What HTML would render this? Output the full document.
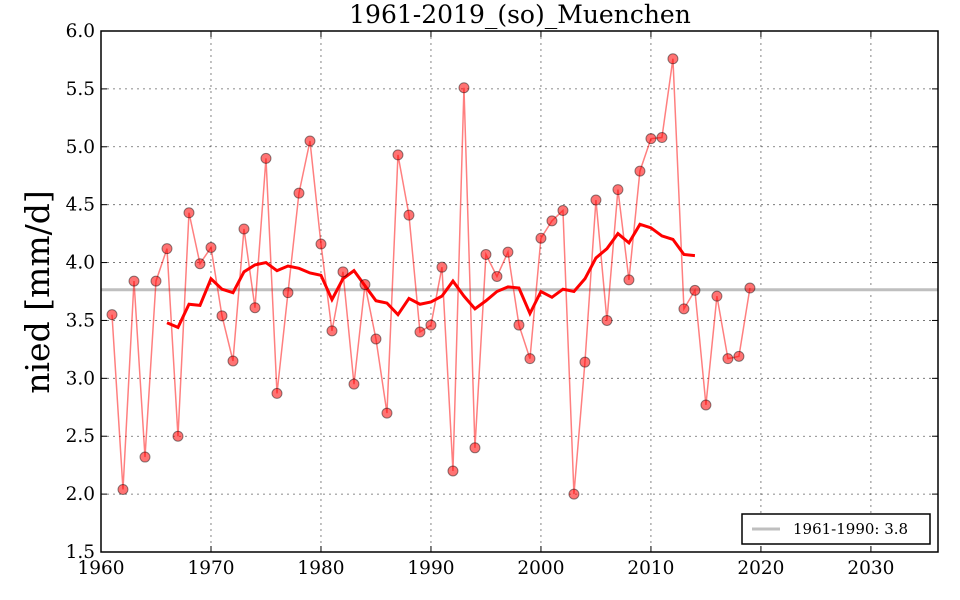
<!DOCTYPE html>
<html><head><meta charset="utf-8"><style>
body{margin:0;background:#fff}
svg{display:block;font-family:"DejaVu Serif","Liberation Serif",serif}
</style></head><body>
<svg id="chart" width="960" height="600" xmlns="http://www.w3.org/2000/svg">
<rect width="960" height="600" fill="#fff"/>
<g id="grid"></g>
<g id="marks"></g>
<g id="axes"></g>
<text x="520" y="23" text-anchor="middle" font-size="25">1961-2019_(so)_Muenchen</text>
<text transform="translate(49,292) rotate(-90)" text-anchor="middle" font-size="33">nied [mm/d]</text>
<g>
<rect x="742" y="514" width="188" height="30" fill="#fff" stroke="#000" stroke-width="1.5"/>
<line x1="752" y1="529" x2="780" y2="529" stroke="#bfbfbf" stroke-width="3"/>
<text x="793" y="534" font-size="15">1961-1990: 3.8</text>
</g>
</svg>
<script>
const years=[1961,1962,1963,1964,1965,1966,1967,1968,1969,1970,1971,1972,1973,1974,1975,1976,1977,1978,1979,1980,1981,1982,1983,1984,1985,1986,1987,1988,1989,1990,1991,1992,1993,1994,1995,1996,1997,1998,1999,2000,2001,2002,2003,2004,2005,2006,2007,2008,2009,2010,2011,2012,2013,2014,2015,2016,2017,2018,2019];
const values=[3.55,2.04,3.84,2.32,3.84,4.12,2.50,4.43,3.99,4.13,3.54,3.15,4.29,3.61,4.90,2.87,3.74,4.60,5.05,4.16,3.41,3.92,2.95,3.81,3.34,2.70,4.93,4.41,3.40,3.46,3.96,2.20,5.51,2.40,4.07,3.88,4.09,3.46,3.17,4.21,4.36,4.45,2.00,3.14,4.54,3.50,4.63,3.85,4.79,5.07,5.08,5.76,3.60,3.76,2.77,3.71,3.17,3.19,3.78];
const maYears=[1966,1967,1968,1969,1970,1971,1972,1973,1974,1975,1976,1977,1978,1979,1980,1981,1982,1983,1984,1985,1986,1987,1988,1989,1990,1991,1992,1993,1994,1995,1996,1997,1998,1999,2000,2001,2002,2003,2004,2005,2006,2007,2008,2009,2010,2011,2012,2013,2014];
const maValues=[3.48,3.44,3.64,3.63,3.86,3.77,3.74,3.92,3.98,4.00,3.93,3.97,3.95,3.91,3.89,3.68,3.86,3.93,3.80,3.67,3.65,3.55,3.69,3.64,3.66,3.71,3.84,3.71,3.60,3.67,3.75,3.79,3.78,3.56,3.75,3.70,3.77,3.75,3.86,4.04,4.12,4.25,4.17,4.33,4.30,4.23,4.20,4.07,4.06];
const refMean=[3.765];
const xTicks=[1960,1970,1980,1990,2000,2010,2020,2030];
const yTicks=[1.5,2.0,2.5,3.0,3.5,4.0,4.5,5.0,5.5,6.0];
const L=101,R=938,T=31,B=552,X0=1960,X1=2036.1,Y0=1.5,Y1=6.0;
const sx=v=>L+(v-X0)/(X1-X0)*(R-L);
const sy=v=>B-(v-Y0)/(Y1-Y0)*(B-T);
const NS="http://www.w3.org/2000/svg";
function mk(tag,attrs,parent){const e=document.createElementNS(NS,tag);for(const k in attrs)e.setAttribute(k,attrs[k]);parent.appendChild(e);return e;}
const grid=document.getElementById('grid'),marks=document.getElementById('marks'),axes=document.getElementById('axes');
xTicks.forEach(t=>{
 const g=mk('line',{x1:sx(t),x2:sx(t),y1:T,y2:B,stroke:'#000','stroke-width':0.8,'stroke-dasharray':'2,4',opacity:0.6},grid);
 
 
 const tk=mk('line',{x1:sx(t),x2:sx(t),y1:B,y2:B-6,stroke:'#000','stroke-width':1},axes);
 
 
 mk('line',{x1:sx(t),x2:sx(t),y1:T,y2:T+6,stroke:'#000','stroke-width':1},axes);
 const tx=mk('text',{x:sx(t),y:B+22,'text-anchor':'middle','font-size':18.5},axes);
 tx.textContent=t;
 
 
});
yTicks.forEach(t=>{
 if(t>Y0&&t<Y1){const g=mk('line',{x1:L,x2:R,y1:sy(t),y2:sy(t),stroke:'#000','stroke-width':0.8,'stroke-dasharray':'2,4',opacity:0.6},grid);
 
 }
 const tk=mk('line',{x1:L,x2:L+6,y1:sy(t),y2:sy(t),stroke:'#000','stroke-width':1},axes);
 
 
 mk('line',{x1:R,x2:R-6,y1:sy(t),y2:sy(t),stroke:'#000','stroke-width':1},axes);
 const tx=mk('text',{x:L-6,y:sy(t)+6,'text-anchor':'end','font-size':18.5},axes);
 tx.textContent=t.toFixed(1);
 
 
});
const ref=mk('line',{x1:L,x2:R,y1:sy(refMean[0]),y2:sy(refMean[0]),stroke:'#bfbfbf','stroke-width':3},marks);


const p=mk('polyline',{points:years.map((y,i)=>sx(y)+','+sy(values[i])).join(' '),fill:'none',stroke:'#ff0000','stroke-opacity':0.5,'stroke-width':1.5},marks);


const ma=mk('polyline',{points:maYears.map((y,i)=>sx(y)+','+sy(maValues[i])).join(' '),fill:'none',stroke:'#ff0000','stroke-width':3},marks);


years.forEach((y,i)=>{
 const c=mk('circle',{cx:sx(y),cy:sy(values[i]),r:5,fill:'#ff0000','fill-opacity':0.55,stroke:'#000','stroke-opacity':0.45,'stroke-width':1},marks);
 
 
});
const frame=mk('rect',{x:L,y:T,width:R-L,height:B-T,fill:'none',stroke:'#000','stroke-width':1.5},axes);


</script>
</body></html>
